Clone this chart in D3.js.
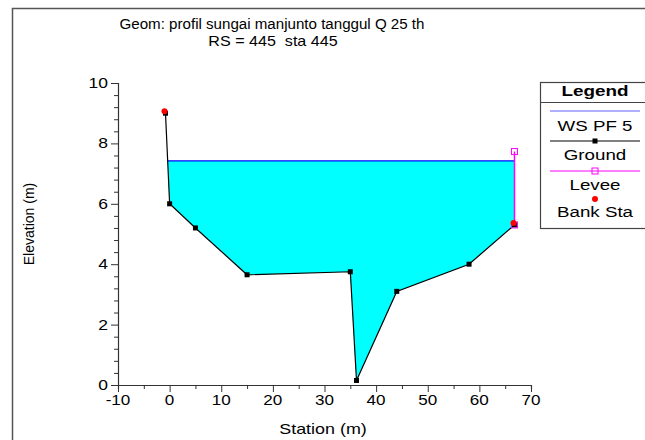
<!DOCTYPE html>
<html>
<head>
<meta charset="utf-8">
<script src="https://cdn.jsdelivr.net/npm/d3@7"></script>
<style>
    body { margin: 0; background: #fff; }
    text { font-family: Arial, "Liberation Sans", sans-serif; fill: #000; white-space: pre; }
</style>
</head>
<body>
<div id="chart"></div>
<script>
// Data
const groundStation = [-0.8, 0, 5, 15, 35, 36.2, 44, 58, 66.8];
const groundElev = [9.0, 6.0, 5.2, 3.65, 3.75, 0.15, 3.1, 4.0, 5.3];
const wsElev = 7.42;
const leveeStation = [66.8];
const leveeElev = [7.73];
const bankStation = [-0.8, 66.8];
const bankElev = [9.0, 5.3];
const xTicks = [-10, 0, 10, 20, 30, 40, 50, 60, 70];
const yTicks = [0, 2, 4, 6, 8, 10];
const titleLines = ['Geom: profil sungai manjunto tanggul Q 25 th', 'RS = 445  sta 445'];
const legendItems = ['WS PF 5', 'Ground', 'Levee', 'Bank Sta'];

// Configuration
const config = {
    width: 645,
    height: 440,
    plot: { left: 118, right: 531, top: 83, bottom: 385 },
    stretch: 1.22   // the reference text is drawn a little wide
};

const svg = d3.select('#chart')
    .append('svg')
    .attr('width', config.width)
    .attr('height', config.height);

// Text helper: horizontally stretched label
function addText(parent, x, y, str, size, opts = {}) {
    const sx = opts.sx || config.stretch;
    const rot = opts.rotate ? ` rotate(${opts.rotate})` : '';
    const t = parent.append('text')
        .attr('transform', `translate(${x},${y})${rot} scale(${sx},1)`)
        .attr('text-anchor', opts.anchor || 'middle')
        .attr('font-size', size)
        .text(str);
    if (opts.bold) t.attr('font-weight', 'bold');
    return t;
}

// Outer frame (runs off the right and bottom edge as in the reference)
svg.append('path')
    .attr('d', `M12.5,${config.height + 5}V8.5H${config.width + 5}`)
    .attr('fill', 'none')
    .attr('stroke', '#555')
    .attr('stroke-width', 1.5);

// Title
addText(svg, 272, 29, titleLines[0], 14, { sx: 1.08 });
addText(svg, 273, 46, titleLines[1], 14, { sx: 1.15 });

// Scales
const x = d3.scaleLinear().domain([-10, 70]).range([config.plot.left, config.plot.right]);
const y = d3.scaleLinear().domain([0, 10]).range([config.plot.bottom, config.plot.top]);

const ground = groundStation.map((s, i) => [s, groundElev[i]]);

// Water surface extent: left crossing of ground, right at the levee
let leftX = ground[0][0];
for (let i = 0; i < ground.length - 1; i++) {
    const [x0, y0] = ground[i], [x1, y1] = ground[i + 1];
    if ((y0 - wsElev) * (y1 - wsElev) <= 0) {
        leftX = x0 + (wsElev - y0) / (y1 - y0) * (x1 - x0);
        break;
    }
}
const rightX = leveeStation[0];

// Fill polygon: WS line, then along ground back to left
const below = ground.filter(d => d[0] > leftX && d[0] <= rightX);
const fillPts = [[leftX, wsElev], [rightX, wsElev], [rightX, ground[ground.length - 1][1]]]
    .concat(below.slice().reverse());
svg.append('path')
    .attr('d', d3.line().x(d => x(d[0])).y(d => y(d[1]))(fillPts) + 'Z')
    .attr('fill', '#00ffff')
    .attr('stroke', 'none');

// WS line
svg.append('line')
    .attr('x1', x(leftX)).attr('x2', x(rightX))
    .attr('y1', y(wsElev)).attr('y2', y(wsElev))
    .attr('stroke', '#0000ff')
    .attr('stroke-width', 1.2);

// Levee line
svg.append('line')
    .attr('x1', x(leveeStation[0])).attr('x2', x(leveeStation[0]))
    .attr('y1', y(leveeElev[0])).attr('y2', y(bankElev[1]))
    .attr('stroke', '#ff00ff')
    .attr('stroke-width', 1.5);

// Ground line
svg.append('path')
    .datum(ground)
    .attr('d', d3.line().x(d => x(d[0])).y(d => y(d[1])))
    .attr('fill', 'none')
    .attr('stroke', '#000')
    .attr('stroke-width', 1.2);

// Ground markers
svg.selectAll(null)
    .data(ground)
    .enter()
    .append('rect')
    .attr('x', d => x(d[0]) - 2.5)
    .attr('y', d => y(d[1]) - 2.5)
    .attr('width', 5)
    .attr('height', 5)
    .attr('fill', '#000');

// Levee markers (top and toe)
const leveePts = [[leveeStation[0], leveeElev[0]], [leveeStation[0], bankElev[1]]];
svg.selectAll(null)
    .data(leveePts)
    .enter()
    .append('rect')
    .attr('x', d => x(d[0]) - 3)
    .attr('y', d => y(d[1]) - 3)
    .attr('width', 6)
    .attr('height', 6)
    .attr('fill', 'none')
    .attr('stroke', '#ff00ff')
    .attr('stroke-width', 1);

// Bank stations
svg.selectAll(null)
    .data(bankStation.map((s, i) => [s, bankElev[i]]))
    .enter()
    .append('circle')
    .attr('cx', d => x(d[0]) - 1)
    .attr('cy', d => y(d[1]) - 2)
    .attr('r', 3)
    .attr('fill', '#ff0000');

// Axes
const xAxis = svg.append('g')
    .attr('transform', `translate(0,${config.plot.bottom})`)
    .call(d3.axisBottom(x).tickValues(d3.range(-10, 71, 5)).tickSize(4).tickFormat(''));
xAxis.selectAll('.tick line').filter(d => d % 10 === 0).attr('y2', 7);
xTicks.forEach(d => addText(xAxis, x(d), 20, String(d), 14));

const yAxis = svg.append('g')
    .attr('transform', `translate(${config.plot.left},0)`)
    .call(d3.axisLeft(y).tickValues(d3.range(0, 10.01, 0.4)).tickSize(4).tickFormat(''));
yAxis.selectAll('.tick line').filter(d => Math.abs(d - Math.round(d / 2) * 2) < 1e-6).attr('x2', -7);
yTicks.forEach(d => addText(yAxis, -10, y(d) + 5, String(d), 14, { anchor: 'end', sx: 1.25 }));

[xAxis, yAxis].forEach(g => {
    g.select('.domain').attr('stroke', '#333').attr('stroke-width', 1.2);
    g.selectAll('.tick line').attr('stroke', '#333');
});

// Axis labels
addText(svg, 323, 434, 'Station (m)', 14, { sx: 1.28 });
addText(svg, 34, 224, 'Elevation (m)', 14, { sx: 1.0, rotate: -90 });

// Legend
const lg = svg.append('g').attr('transform', 'translate(540,82)');
lg.append('rect')
    .attr('x', 0.5).attr('y', 0.5)
    .attr('width', 130).attr('height', 146)
    .attr('fill', '#fff')
    .attr('stroke', '#444')
    .attr('stroke-width', 1.2);
lg.append('line')
    .attr('x1', 0).attr('x2', 130)
    .attr('y1', 20.5).attr('y2', 20.5)
    .attr('stroke', '#444');
addText(lg, 55, 14, 'Legend', 14.5, { bold: true, sx: 1.3 });

const rowY = [29, 59, 89, 117];
const textDy = [20, 19, 19, 18];
const lx1 = 10, lx2 = 100, lmid = 55;
lg.append('line').attr('x1', lx1).attr('x2', lx2).attr('y1', rowY[0]).attr('y2', rowY[0])
    .attr('stroke', '#6060ff').attr('stroke-width', 1.2);
lg.append('line').attr('x1', lx1).attr('x2', lx2).attr('y1', rowY[1]).attr('y2', rowY[1])
    .attr('stroke', '#000').attr('stroke-width', 1);
lg.append('rect').attr('x', lmid - 2.5).attr('y', rowY[1] - 2.5).attr('width', 5).attr('height', 5)
    .attr('fill', '#000');
lg.append('line').attr('x1', lx1).attr('x2', lx2).attr('y1', rowY[2]).attr('y2', rowY[2])
    .attr('stroke', '#ff00ff').attr('stroke-width', 1);
lg.append('rect').attr('x', lmid - 3).attr('y', rowY[2] - 3).attr('width', 6).attr('height', 6)
    .attr('fill', 'none').attr('stroke', '#ff00ff');
lg.append('circle').attr('cx', lmid).attr('cy', rowY[3]).attr('r', 3).attr('fill', '#ff0000');

legendItems.forEach((t, i) => addText(lg, lmid, rowY[i] + textDy[i], t, 15, { sx: 1.25 }));
</script>
</body>
</html>
